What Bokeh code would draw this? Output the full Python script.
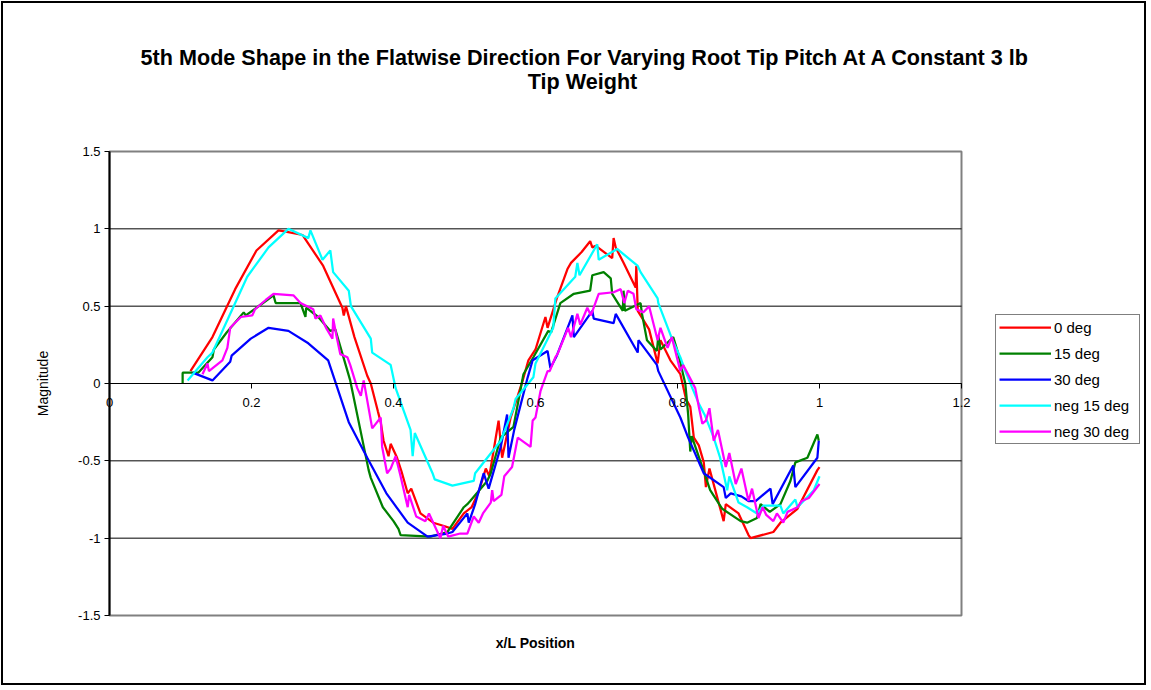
from bokeh.plotting import figure
from bokeh.models import Label, Legend, LegendItem, FixedTicker, Range1d
from bokeh.embed import file_html
from bokeh.resources import INLINE

FONT = "Liberation Sans"

title_line1 = "5th Mode Shape in the Flatwise Direction For Varying Root Tip Pitch At A Constant 3 lb"
title_line2 = "Tip Weight"
x_title = "x/L Position"
y_title = "Magnitude"

x_ticks = [0, 0.2, 0.4, 0.6, 0.8, 1.0, 1.2]
x_tick_labels = ["0", "0.2", "0.4", "0.6", "0.8", "1", "1.2"]
y_ticks = [-1.5, -1.0, -0.5, 0, 0.5, 1.0, 1.5]
y_tick_labels = ["-1.5", "-1", "-0.5", "0", "0.5", "1", "1.5"]

series_names = ["0 deg", "15 deg", "30 deg", "neg 15 deg", "neg 30 deg"]
series_colors = ["#FF0000", "#008000", "#0000FF", "#00FFFF", "#FF00FF"]

# 0 deg
x_0deg = [0.114,0.145,0.177,0.207,0.238,0.25,0.272,0.301,0.311,0.328,0.33,0.333,0.345,0.363,0.368,0.378,0.382,0.386,0.393,0.396,
          0.405,0.412,0.42,0.425,0.438,0.456,0.47,0.483,0.499,0.51,0.52,0.53,0.535,0.548,0.553,0.565,0.575,0.582,0.59,0.6,
          0.614,0.617,0.63,0.645,0.65,0.665,0.677,0.68,0.685,0.708,0.71,0.713,0.724,0.741,0.742,0.744,0.76,0.772,0.776,0.79,
          0.804,0.812,0.818,0.823,0.83,0.837,0.84,0.845,0.855,0.865,0.868,0.886,0.9,0.903,0.935,0.945,0.969,0.997,1.0]
y_0deg = [0.08,0.30,0.61,0.86,0.99,0.98,0.96,0.76,0.66,0.49,0.44,0.50,0.30,0.05,0.0,-0.18,-0.25,-0.37,-0.47,-0.39,
          -0.48,-0.58,-0.71,-0.68,-0.84,-0.90,-0.92,-0.94,-0.84,-0.80,-0.70,-0.55,-0.60,-0.24,-0.48,-0.22,-0.08,0.02,0.15,0.22,
          0.43,0.36,0.55,0.74,0.78,0.85,0.92,0.88,0.89,0.81,0.94,0.88,0.78,0.62,0.76,0.47,0.35,0.13,0.28,0.15,
          0.06,-0.10,-0.15,-0.35,-0.40,-0.51,-0.67,-0.55,-0.72,-0.89,-0.78,-0.84,-0.98,-1.0,-0.96,-0.90,-0.81,-0.56,-0.54]

# 15 deg
x_15deg = [0.103,0.103,0.125,0.145,0.147,0.165,0.189,0.192,0.222,0.231,0.234,0.269,0.276,0.277,0.294,0.311,0.318,0.339,0.365,0.368,
           0.385,0.4,0.407,0.41,0.452,0.476,0.499,0.504,0.508,0.532,0.537,0.551,0.569,0.583,0.597,0.618,0.622,0.635,0.654,0.677,
           0.68,0.696,0.706,0.708,0.723,0.724,0.726,0.748,0.75,0.757,0.771,0.773,0.776,0.794,0.8,0.811,0.815,0.818,0.82,0.832,
           0.846,0.863,0.889,0.898,0.912,0.917,0.93,0.945,0.959,0.966,0.983,0.997,0.999]
y_15deg = [0.0,0.07,0.07,0.17,0.22,0.33,0.46,0.44,0.54,0.57,0.52,0.52,0.43,0.49,0.43,0.34,0.35,0.02,-0.56,-0.61,
           -0.80,-0.89,-0.94,-0.98,-0.99,-0.96,-0.80,-0.78,-0.76,-0.63,-0.58,-0.35,-0.28,0.06,0.17,0.34,0.33,0.52,0.58,0.60,
           0.70,0.72,0.68,0.58,0.47,0.60,0.47,0.52,0.45,0.28,0.21,0.31,0.22,0.30,0.21,0.0,-0.20,-0.44,-0.34,-0.50,
           -0.69,-0.81,-0.89,-0.90,-0.87,-0.78,-0.83,-0.78,-0.63,-0.51,-0.48,-0.33,-0.37]

# 30 deg
x_30deg = [0.117,0.145,0.17,0.172,0.199,0.224,0.252,0.28,0.308,0.337,0.363,0.39,0.42,0.448,0.476,0.483,0.504,0.506,0.515,0.527,
           0.534,0.551,0.56,0.562,0.57,0.589,0.596,0.617,0.621,0.63,0.652,0.654,0.68,0.682,0.71,0.713,0.744,0.745,0.771,0.773,
           0.804,0.815,0.837,0.865,0.868,0.875,0.89,0.9,0.91,0.931,0.934,0.963,0.966,0.997,0.999]
y_30deg = [0.07,0.02,0.14,0.18,0.29,0.36,0.34,0.26,0.15,-0.25,-0.48,-0.71,-0.90,-0.99,-0.97,-0.96,-0.84,-0.90,-0.78,-0.58,
           -0.68,-0.41,-0.20,-0.48,-0.30,0.04,0.15,0.21,0.10,0.18,0.44,0.30,0.47,0.42,0.39,0.45,0.20,0.28,0.12,0.08,
           -0.22,-0.35,-0.58,-0.67,-0.74,-0.71,-0.73,-0.76,-0.76,-0.68,-0.78,-0.53,-0.67,-0.48,-0.37]

# neg 15 deg
x_neg15 = [0.11,0.138,0.145,0.168,0.194,0.224,0.252,0.28,0.283,0.3,0.311,0.315,0.337,0.34,0.368,0.37,0.396,0.403,0.424,0.427,
           0.43,0.455,0.458,0.483,0.513,0.515,0.551,0.569,0.572,0.597,0.6,0.625,0.628,0.656,0.659,0.662,0.687,0.689,0.715,0.744,
           0.748,0.772,0.773,0.793,0.804,0.811,0.82,0.83,0.838,0.851,0.86,0.87,0.873,0.886,0.898,0.912,0.921,0.945,0.949,0.966,
           0.969,0.992,1.0]
y_neg15 = [0.02,0.17,0.20,0.43,0.69,0.88,1.0,0.94,0.99,0.80,0.86,0.72,0.60,0.50,0.29,0.20,0.12,-0.03,-0.30,-0.47,
           -0.32,-0.58,-0.62,-0.66,-0.63,-0.58,-0.37,-0.16,-0.10,0.04,0.13,0.36,0.55,0.69,0.78,0.70,0.90,0.80,0.87,0.76,
           0.72,0.55,0.52,0.28,0.17,0.08,-0.02,-0.13,-0.20,-0.35,-0.48,-0.69,-0.60,-0.77,-0.80,-0.84,-0.79,-0.79,-0.84,-0.75,
           -0.80,-0.69,-0.60]

# neg 30 deg
x_neg30 = [0.131,0.138,0.14,0.159,0.166,0.17,0.185,0.201,0.205,0.22,
           0.231,0.259,0.269,0.287,0.29,0.297,0.305,0.314,0.315,0.32,
           0.325,0.335,0.339,0.349,0.354,0.358,0.37,0.382,0.384,0.391,
           0.396,0.403,0.41,0.42,0.422,0.432,0.445,0.45,0.466,0.47,
           0.477,0.494,0.504,0.513,0.52,0.526,0.537,0.539,0.541,0.552,
           0.556,0.567,0.575,0.593,0.596,0.6,0.607,0.617,0.62,0.628,
           0.631,0.639,0.646,0.65,0.659,0.663,0.673,0.678,0.689,0.71,
           0.72,0.725,0.73,0.738,0.742,0.752,0.76,0.772,0.776,0.786,
           0.792,0.804,0.808,0.825,0.83,0.835,0.84,0.845,0.851,0.857,
           0.868,0.873,0.882,0.89,0.9,0.905,0.914,0.92,0.925,0.935,
           0.94,0.949,0.955,0.969,0.975,0.985,1.0]
y_neg30 = [0.06,0.13,0.08,0.15,0.23,0.36,0.43,0.44,0.48,0.54,
           0.58,0.57,0.52,0.48,0.42,0.44,0.36,0.29,0.42,0.30,
           0.19,0.17,0.12,-0.03,-0.08,0.02,-0.29,-0.22,-0.41,-0.58,
           -0.55,-0.47,-0.60,-0.80,-0.72,-0.86,-0.89,-0.84,-1.0,-0.92,
           -0.99,-0.97,-0.97,-0.86,-0.90,-0.84,-0.77,-0.69,-0.76,-0.72,
           -0.60,-0.54,-0.35,-0.41,-0.24,-0.22,-0.05,0.08,0.08,0.17,
           0.19,0.28,0.36,0.30,0.45,0.38,0.49,0.44,0.58,0.59,
           0.61,0.52,0.60,0.58,0.48,0.46,0.50,0.28,0.36,0.23,
           0.30,0.08,0.12,-0.03,-0.15,-0.26,-0.24,-0.16,-0.37,-0.30,
           -0.54,-0.45,-0.65,-0.55,-0.76,-0.68,-0.87,-0.80,-0.85,-0.89,
           -0.84,-0.90,-0.83,-0.80,-0.76,-0.74,-0.65]

series_x = [x_0deg, x_15deg, x_30deg, x_neg15, x_neg30]
series_y = [y_0deg, y_15deg, y_30deg, y_neg15, y_neg30]

# ---- layout (pixels) ----
CANVAS_W, CANVAS_H = 1145, 684          # + 1px margin + 2px border each side = 1151 x 690
CANVAS_X0, CANVAS_Y0 = 3, 3             # canvas origin in page pixels
BOX_L, BOX_R, BOX_T, BOX_B = 109, 961, 151, 615   # plot box in page pixels

x_lo, x_hi = x_ticks[0], x_ticks[-1]
y_lo, y_hi = y_ticks[0], y_ticks[-1]
ppx = (BOX_R - BOX_L) / (x_hi - x_lo)
ppy = (BOX_B - BOX_T) / (y_hi - y_lo)
xr_start = x_lo - (BOX_L - CANVAS_X0) / ppx
xr_end = xr_start + CANVAS_W / ppx
yr_end = y_hi + (BOX_T - CANVAS_Y0) / ppy
yr_start = yr_end - CANVAS_H / ppy

p = figure(width=CANVAS_W, height=CANVAS_H,
           x_range=Range1d(xr_start, xr_end), y_range=Range1d(yr_start, yr_end),
           output_backend="svg", toolbar_location=None,
           min_border=0, min_border_left=0, min_border_right=0,
           min_border_top=0, min_border_bottom=0)
p.styles = {"border": "2px solid black", "margin": "1px"}
p.background_fill_color = "white"
p.border_fill_color = "white"
p.outline_line_color = None
p.xgrid.visible = False
p.ygrid.visible = False

# plot-area box and horizontal gridlines
p.quad(left=[x_lo], right=[x_hi], bottom=[y_lo], top=[y_hi],
       fill_color=None, line_color="#808080", line_width=2)
grid_y = y_ticks[1:-1]
p.segment(x0=[x_lo] * len(grid_y), x1=[x_hi] * len(grid_y), y0=grid_y, y1=grid_y,
          line_color="black", line_width=1)

# x axis crossing at y = 0
xa = p.xaxis[0]
xa.fixed_location = 0
xa.bounds = (x_lo, x_hi)
xa.ticker = FixedTicker(ticks=x_ticks)
xa.major_label_overrides = {t: l for t, l in zip(x_ticks, x_tick_labels)}
xa.axis_line_color = "black"
xa.axis_line_width = 1
xa.major_tick_out = 5
xa.major_tick_in = 0
xa.minor_tick_out = 0
xa.minor_tick_in = 0
xa.major_tick_line_color = "black"
xa.major_label_text_font = FONT
xa.major_label_text_font_size = "13px"
xa.major_label_text_color = "black"
xa.major_label_standoff = 9

# y axis at x = 0
ya = p.yaxis[0]
ya.fixed_location = 0
ya.bounds = (y_lo, y_hi)
ya.ticker = FixedTicker(ticks=y_ticks)
ya.major_label_overrides = {t: l for t, l in zip(y_ticks, y_tick_labels)}
ya.axis_line_color = "black"
ya.axis_line_width = 2
ya.major_tick_out = 5
ya.major_tick_in = 0
ya.minor_tick_out = 0
ya.minor_tick_in = 0
ya.major_tick_line_color = "black"
ya.major_label_text_font = FONT
ya.major_label_text_font_size = "13px"
ya.major_label_text_color = "black"
ya.major_label_standoff = 4
ya.axis_label = y_title
ya.axis_label_text_font = FONT
ya.axis_label_text_font_size = "14px"
ya.axis_label_text_font_style = "normal"
ya.axis_label_text_color = "black"
ya.axis_label_standoff = 24

items = []
for name, color, xs, ys in zip(series_names, series_colors, series_x, series_y):
    r = p.line(xs, ys, line_color=color, line_width=2.25)
    items.append(LegendItem(label=name, renderers=[r]))

LEG_L, LEG_B = 995, 444
legend = Legend(items=items, location=(LEG_L - CANVAS_X0, CANVAS_Y0 + CANVAS_H - LEG_B))
legend.border_line_color = "black"
legend.border_line_width = 1
legend.background_fill_color = "white"
legend.background_fill_alpha = 1.0
legend.label_text_font = FONT
legend.label_text_font_size = "15px"
legend.label_text_color = "black"
legend.glyph_width = 52
legend.glyph_height = 18
legend.label_height = 18
legend.label_width = 82
legend.spacing = 8
legend.padding = 3
legend.margin = 0
legend.label_standoff = 3
p.add_layout(legend)

def sx(page_x):
    return page_x - CANVAS_X0

def sy(page_y):
    return CANVAS_Y0 + CANVAS_H - page_y

p.add_layout(Label(x=sx(585), y=sy(57), x_units="screen", y_units="screen", text=title_line1,
                   text_align="center", text_baseline="middle", text_font=FONT,
                   text_font_size="21.6px", text_font_style="bold", text_color="black"))
p.add_layout(Label(x=sx(582), y=sy(81), x_units="screen", y_units="screen", text=title_line2,
                   text_align="center", text_baseline="middle", text_font=FONT,
                   text_font_size="21.6px", text_font_style="bold", text_color="black"))
p.add_layout(Label(x=sx(535), y=sy(642), x_units="screen", y_units="screen", text=x_title,
                   text_align="center", text_baseline="middle", text_font=FONT,
                   text_font_size="14px", text_font_style="bold", text_color="black"))

open("out.html", "w").write(file_html(p, INLINE))
